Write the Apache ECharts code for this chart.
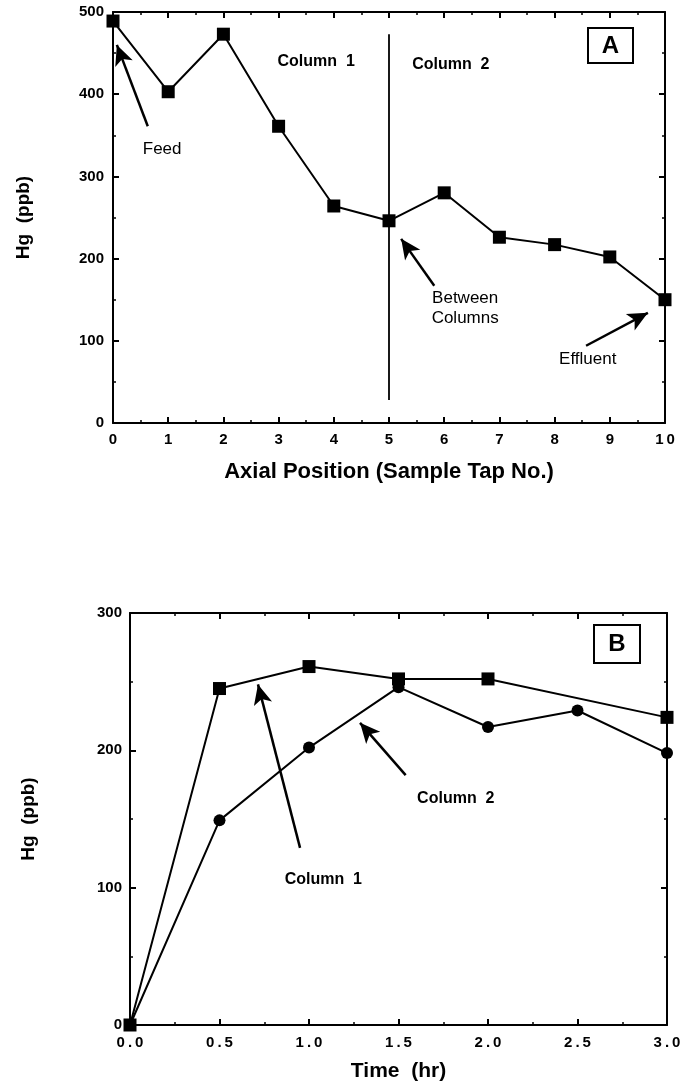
<!DOCTYPE html>
<html>
<head>
<meta charset="utf-8">
<script src="https://cdn.jsdelivr.net/npm/echarts@6/dist/echarts.min.js"></script>
<style>
  html, body { margin: 0; padding: 0; background: #fff; }
  #chart { width: 688px; height: 1084px; }
</style>
</head>
<body>
<div id="chart"></div>
<script>
// panel A : Hg along the columns
var tapNo = [0, 1, 2, 3, 4, 5, 6, 7, 8, 9, 10]
var hgTap = [489, 403, 473, 361, 264, 246, 280, 226, 217, 202, 150]
// panel B : Hg over time
var timeCol1 = [0, 0.5, 1.0, 1.5, 2.0, 3.0]
var hgCol1 = [0, 245, 261, 252, 252, 224]
var timeCol2 = [0, 0.5, 1.0, 1.5, 2.0, 2.5, 3.0]
var hgCol2 = [0, 149, 202, 246, 217, 229, 198]

// column divider in A
var dividerA = [[5, 28], [5, 473]]
// arrows [tail, head]
var arrowsA = [
  [[0.63, 361], [0.07, 460]],
  [[5.82, 167], [5.22, 224]],
  [[8.57, 94], [9.69, 134]]
]
var arrowsB = [
  [[0.95, 129], [0.715, 248]],
  [[1.54, 182], [1.285, 220]]
]
// text notes
var notesA = [
  { name: 'Column  1', value: [3.68, 440], bold: true },
  { name: 'Column  2', value: [6.12, 436], bold: true },
  { name: 'Feed', value: [0.89, 333] },
  { name: 'Between\nColumns', value: [6.38, 139] },
  { name: 'Effluent', value: [8.6, 77] }
]
var notesB = [
  { name: 'Column  1', value: [1.08, 106], bold: true },
  { name: 'Column  2', value: [1.82, 165], bold: true }
]

var FONT = '"Liberation Sans", Arial, Helvetica, sans-serif'

function pairs (xs, ys) {
  return xs.map(function (x, i) { return [x, ys[i]] })
}
function spaced (v) {
  return String(v).split('').join('\u2009')
}
function arrowLines (list) {
  return list.map(function (a) {
    return [{ coord: a[0], symbol: 'none' }, { coord: a[1], symbol: 'arrow', symbolSize: [14, 20] }]
  })
}
function noteData (list) {
  return list.map(function (n) {
    return {
      name: n.name,
      value: n.value,
      itemStyle: { opacity: 1 },
      label: {
        color: '#000',
        opacity: 1,
        fontFamily: FONT,
        fontWeight: n.bold ? 'bold' : 'normal',
        fontSize: n.bold ? 16 : 17,
        lineHeight: 20,
        textBorderWidth: 0
      }
    }
  })
}

function frameAxis (opt) {
  // shared axis look: black frame, inward ticks
  return Object.assign({
    type: 'value',
    axisLine: { show: true, onZero: false, lineStyle: { color: '#000', width: 2 } },
    axisTick: { show: true, inside: true, length: 6, lineStyle: { color: '#000', width: 2 } },
    minorTick: { show: true, splitNumber: 2, length: 3, lineStyle: { color: '#000', width: 1.5 } },
    splitLine: { show: false },
    axisLabel: { show: false }
  }, opt)
}
var tickLabel = { show: true, color: '#000', fontFamily: FONT, fontWeight: 'bold', fontSize: 15 }
var nameStyle = { color: '#000', fontFamily: FONT, fontWeight: 'bold', fontSize: 19 }

var option = {
  animation: false,
  backgroundColor: '#fff',
  grid: [
    { left: 113, top: 12, width: 552, height: 411 },
    { left: 130, top: 613, width: 537, height: 412 }
  ],
  xAxis: [
    frameAxis({
      gridIndex: 0, position: 'bottom', min: 0, max: 10, interval: 1,
      axisLabel: Object.assign({}, tickLabel, { margin: 9, formatter: spaced }),
      name: 'Axial Position (Sample Tap No.)', nameLocation: 'middle', nameGap: 38,
      nameTextStyle: Object.assign({}, nameStyle, { fontSize: 22 })
    }),
    frameAxis({ gridIndex: 0, position: 'top', min: 0, max: 10, interval: 1 }),
    frameAxis({
      gridIndex: 1, position: 'bottom', min: 0, max: 3, interval: 0.5,
      axisLabel: Object.assign({}, tickLabel, { margin: 10, formatter: function (v) { return spaced(v.toFixed(1)) } }),
      name: 'Time  (hr)', nameLocation: 'middle', nameGap: 36,
      nameTextStyle: Object.assign({}, nameStyle, { fontSize: 21 })
    }),
    frameAxis({ gridIndex: 1, position: 'top', min: 0, max: 3, interval: 0.5 })
  ],
  yAxis: [
    frameAxis({
      gridIndex: 0, position: 'left', min: 0, max: 500, interval: 100,
      axisLabel: Object.assign({}, tickLabel, { margin: 9 }),
      name: 'Hg  (ppb)', nameLocation: 'middle', nameGap: 80, nameTextStyle: nameStyle
    }),
    frameAxis({ gridIndex: 0, position: 'right', min: 0, max: 500, interval: 100 }),
    frameAxis({
      gridIndex: 1, position: 'left', min: 0, max: 300, interval: 100,
      axisLabel: Object.assign({}, tickLabel, { margin: 8 }),
      name: 'Hg  (ppb)', nameLocation: 'middle', nameGap: 92, nameTextStyle: nameStyle
    }),
    frameAxis({ gridIndex: 1, position: 'right', min: 0, max: 300, interval: 100 })
  ],
  graphic: [
    {
      type: 'group', left: 587, top: 27,
      children: [
        { type: 'rect', shape: { x: 0, y: 0, width: 45, height: 35 }, style: { fill: '#fff', stroke: '#000', lineWidth: 2 } },
        { type: 'text', x: 22.5, y: 18, style: { text: 'A', fill: '#000', font: 'bold 24px ' + FONT, align: 'center', verticalAlign: 'middle' } }
      ]
    },
    {
      type: 'group', left: 593, top: 624,
      children: [
        { type: 'rect', shape: { x: 0, y: 0, width: 46, height: 38 }, style: { fill: '#fff', stroke: '#000', lineWidth: 2 } },
        { type: 'text', x: 23, y: 19.5, style: { text: 'B', fill: '#000', font: 'bold 24px ' + FONT, align: 'center', verticalAlign: 'middle' } }
      ]
    }
  ],
  series: [
    {
      type: 'line', xAxisIndex: 0, yAxisIndex: 0,
      data: pairs(tapNo, hgTap),
      symbol: 'rect', symbolSize: 13,
      itemStyle: { color: '#000' },
      lineStyle: { color: '#000', width: 2 },
      silent: true, z: 5,
      markLine: {
        silent: true, animation: false,
        symbol: 'none',
        label: { show: false },
        itemStyle: { color: '#000' },
        lineStyle: { color: '#000', width: 2.5, type: 'solid' },
        data: [
          [{ coord: dividerA[0], lineStyle: { width: 1.8 } }, { coord: dividerA[1] }]
        ].concat(arrowLines(arrowsA))
      }
    },
    {
      type: 'scatter', xAxisIndex: 0, yAxisIndex: 0,
      symbolSize: 0, silent: true,
      itemStyle: { color: '#000', opacity: 1 },
      label: { show: true, position: 'inside', formatter: '{b}', color: '#000', fontFamily: FONT, align: 'center' },
      data: noteData(notesA)
    },
    {
      type: 'line', xAxisIndex: 2, yAxisIndex: 2,
      data: pairs(timeCol2, hgCol2),
      symbol: 'circle', symbolSize: 12,
      itemStyle: { color: '#000' },
      lineStyle: { color: '#000', width: 2 },
      silent: true, z: 4,
      markLine: {
        silent: true, animation: false,
        symbol: 'none',
        label: { show: false },
        itemStyle: { color: '#000' },
        lineStyle: { color: '#000', width: 2.5, type: 'solid' },
        data: arrowLines(arrowsB)
      }
    },
    {
      type: 'line', xAxisIndex: 2, yAxisIndex: 2,
      data: pairs(timeCol1, hgCol1),
      symbol: 'rect', symbolSize: 13,
      itemStyle: { color: '#000' },
      lineStyle: { color: '#000', width: 2 },
      silent: true, z: 5
    },
    {
      type: 'scatter', xAxisIndex: 2, yAxisIndex: 2,
      symbolSize: 0, silent: true,
      itemStyle: { color: '#000', opacity: 1 },
      label: { show: true, position: 'inside', formatter: '{b}', color: '#000', fontFamily: FONT, align: 'center' },
      data: noteData(notesB)
    }
  ]
}

var chart = echarts.init(document.getElementById('chart'), null, { renderer: 'canvas' })
chart.setOption(option)
</script>
</body>
</html>
